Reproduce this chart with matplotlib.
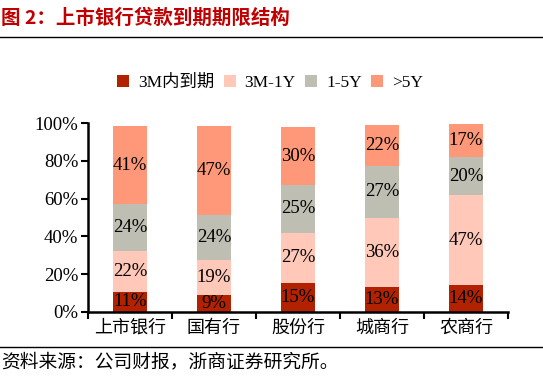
import matplotlib
matplotlib.use("Agg")
import matplotlib.pyplot as plt
import numpy as np
from matplotlib.ticker import FuncFormatter

categories = ["上市银行", "国有行", "股份行", "城商行", "农商行"]
series_names = ["3M内到期", "3M-1Y", "1-5Y", ">5Y"]
s_3m = [10.7, 9.0, 15.3, 13.4, 14.3]
s_3m_1y = [21.8, 18.6, 26.7, 36.4, 47.4]
s_1_5y = [24.4, 23.7, 25.3, 27.4, 20.2]
s_5y = [41.4, 47.3, 30.4, 21.6, 17.4]
colors = ["#B22200", "#FFC8B8", "#BEBEB3", "#FF9878"]

serif = ["Liberation Serif", "Noto Sans CJK SC"]
cjk = ["Noto Sans CJK SC", "DejaVu Sans"]

fig = plt.figure(figsize=(5.43, 3.80), dpi=100)
ax = fig.add_axes([88/543, 1-312/380, 420/543, 189/380])

x = np.arange(len(categories))
bottom = np.zeros(len(categories))
for name, vals, c in zip(series_names, [s_3m, s_3m_1y, s_1_5y, s_5y], colors):
    v = np.array(vals)
    ax.bar(x, v, 0.4, bottom=bottom, color=c, label=name)
    for xi, b, h in zip(x, bottom, v):
        ax.text(xi, b + h/2, f"{h:.0f}%", ha="center", va="center",
                fontsize=13.5, family=serif, color="black")
    bottom += v

ax.set_xlim(-0.5, 4.5)
ax.set_ylim(0, 100)
ax.set_yticks(np.arange(0, 101, 20))
ax.yaxis.set_major_formatter(FuncFormatter(lambda v, p: f"{v:.0f}%"))
ax.set_xticks(np.arange(-0.5, 4.6, 1))
ax.set_xticklabels([])
ax.tick_params(axis="x", direction="out", length=5, width=1.5)
ax.tick_params(axis="y", direction="out", length=5, width=1.5, labelsize=13.5, pad=2)
for lab in ax.get_yticklabels():
    lab.set_family(serif)
for xi, cat in zip(x, categories):
    ax.text(xi, -8.5, cat, ha="center", va="center", fontsize=13, family=cjk,
            transform=ax.transData, clip_on=False)
for s in ["top", "right"]:
    ax.spines[s].set_visible(False)
ax.spines["left"].set_linewidth(1.8)
ax.spines["bottom"].set_linewidth(1.8)

leg = fig.legend(loc="center", bbox_to_anchor=(270/543, 1-83/380), ncol=4, frameon=False,
                 prop={"family": serif, "size": 12.5}, handlelength=0.7, handleheight=0.7,
                 handletextpad=0.5, columnspacing=0.55)

fig.text(0.002, 1-18/380, "图 2：上市银行贷款到期期限结构", fontsize=14, fontweight="bold",
         color="#C00000", family=cjk, ha="left", va="center")
fig.add_artist(plt.Line2D([0, 1], [1-37/380, 1-37/380], color="black", lw=1, transform=fig.transFigure))
fig.add_artist(plt.Line2D([0, 1], [1-347/380, 1-347/380], color="black", lw=1, transform=fig.transFigure))
fig.text(0.002, 1-362/380, "资料来源：公司财报，浙商证券研究所。", fontsize=13.5,
         family=cjk, ha="left", va="center")

fig.savefig("out.png", dpi=100)
